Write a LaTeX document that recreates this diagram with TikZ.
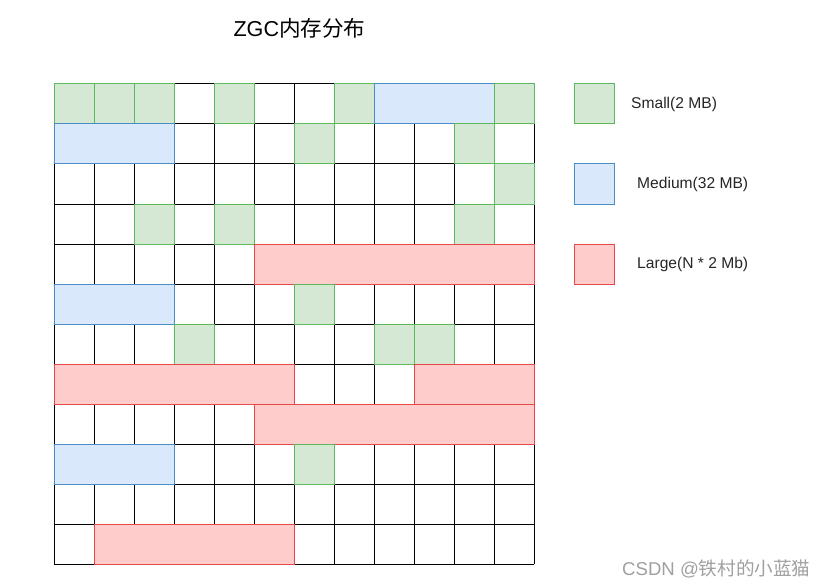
\documentclass[tikz,border=0pt]{standalone}
\usepackage{fontspec}
\setmainfont{Liberation Sans}
\newfontfamily\cjk{Noto Sans CJK SC}
\definecolor{gfill}{HTML}{D5E8D4}
\definecolor{gline}{HTML}{5CB85C}
\definecolor{bfill}{HTML}{DAE8FC}
\definecolor{bline}{HTML}{4A8CC4}
\definecolor{rfill}{HTML}{FFCCCC}
\definecolor{rline}{HTML}{E54848}
\definecolor{wmark}{HTML}{A0A0A0}
\tikzset{
  cellbox/.style={anchor=north west, inner sep=0pt, outer sep=0pt, minimum height=40pt, line width=1pt},
  smallbox/.style={cellbox, draw=gline, fill=gfill, minimum width=40pt},
  medbox/.style={cellbox, draw=bline, fill=bfill},
  largebox/.style={cellbox, draw=rline, fill=rfill},
  legtext/.style={anchor=west, inner sep=0pt, font=\fontsize{15.6}{18}\selectfont, text=black!85},
  gridlines/.style={line width=1pt, draw=black}
}
\newcommand\cellx[1]{{54+40*#1}}
\newcommand\celly[1]{{84+40*#1}}
\begin{document}
\begin{tikzpicture}[x=1pt,y=-1pt]
\useasboundingbox (0,0) rectangle (829,588);
\fill[white] (0,0) rectangle (829,588);
\node[inner sep=0pt, font=\fontsize{21.6}{24}\selectfont] (title) at (299.5,28) {ZGC{\cjk 内存分布}};
\foreach \i in {0,...,12}{
  \draw[gridlines] ({54+40*\i},84) -- ({54+40*\i},564);
  \draw[gridlines] (54,{84+40*\i}) -- (534,{84+40*\i});
}
% row 0
\node[smallbox] (g00) at (\cellx{0},\celly{0}) {};
\node[smallbox] (g01) at (\cellx{1},\celly{0}) {};
\node[smallbox] (g02) at (\cellx{2},\celly{0}) {};
\node[smallbox] (g04) at (\cellx{4},\celly{0}) {};
\node[smallbox] (g07) at (\cellx{7},\celly{0}) {};
\node[medbox, minimum width=120pt] (b08) at (\cellx{8},\celly{0}) {};
\node[smallbox] (g011) at (\cellx{11},\celly{0}) {};
% row 1
\node[medbox, minimum width=120pt] (b10) at (\cellx{0},\celly{1}) {};
\node[smallbox] (g16) at (\cellx{6},\celly{1}) {};
\node[smallbox] (g110) at (\cellx{10},\celly{1}) {};
% row 2
\node[smallbox] (g211) at (\cellx{11},\celly{2}) {};
% row 3
\node[smallbox] (g32) at (\cellx{2},\celly{3}) {};
\node[smallbox] (g34) at (\cellx{4},\celly{3}) {};
\node[smallbox] (g310) at (\cellx{10},\celly{3}) {};
% row 4
\node[largebox, minimum width=280pt] (r45) at (\cellx{5},\celly{4}) {};
% row 5
\node[medbox, minimum width=120pt] (b50) at (\cellx{0},\celly{5}) {};
\node[smallbox] (g56) at (\cellx{6},\celly{5}) {};
% row 6
\node[smallbox] (g63) at (\cellx{3},\celly{6}) {};
\node[smallbox] (g68) at (\cellx{8},\celly{6}) {};
\node[smallbox] (g69) at (\cellx{9},\celly{6}) {};
% row 7
\node[largebox, minimum width=240pt] (r70) at (\cellx{0},\celly{7}) {};
\node[largebox, minimum width=120pt] (r79) at (\cellx{9},\celly{7}) {};
% row 8
\node[largebox, minimum width=280pt] (r85) at (\cellx{5},\celly{8}) {};
% row 9
\node[medbox, minimum width=120pt] (b90) at (\cellx{0},\celly{9}) {};
\node[smallbox] (g96) at (\cellx{6},\celly{9}) {};
% row 11
\node[largebox, minimum width=200pt] (r111) at (\cellx{1},\celly{11}) {};
% legend
\node[smallbox] (legS) at (574,84) {};
\node[medbox, minimum width=40pt] (legM) at (574,164) {};
\node[largebox, minimum width=40pt] (legL) at (574,244) {};
\node[legtext] (txtS) at (631,104) {Small(2 MB)};
\node[legtext] (txtM) at (637,184) {Medium(32 MB)};
\node[legtext] (txtL) at (637,264) {Large(N * 2 Mb)};
% watermark
\node[anchor=west, inner sep=0pt, text=wmark, font=\fontsize{18.6}{21}\selectfont] (wm) at (622,569) {CSDN @{\cjk 铁村的小蓝猫}};
\end{tikzpicture}
\end{document}
